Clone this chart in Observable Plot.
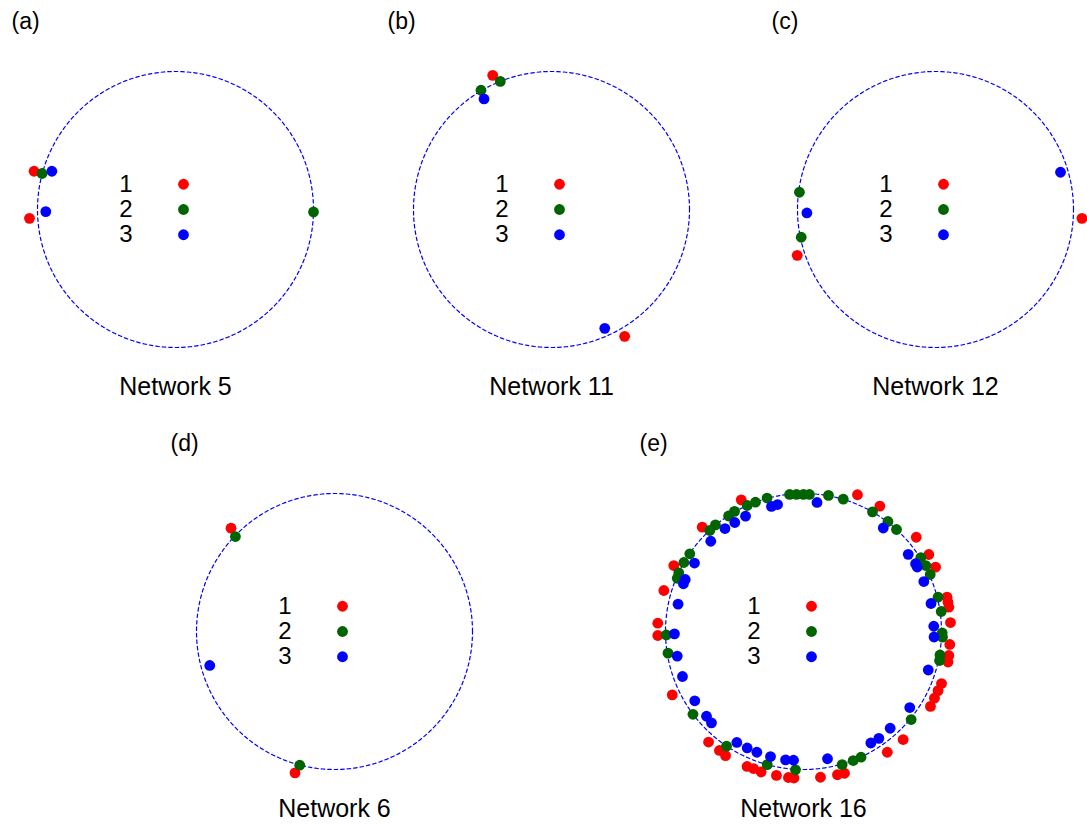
<!DOCTYPE html>
<html>
<head>
<meta charset="utf-8">
<script src="https://cdn.jsdelivr.net/npm/d3@7"></script>
<script src="https://cdn.jsdelivr.net/npm/@observablehq/plot@0.6"></script>
<style>
  body { margin: 0; background: #fff; }
  #fig { position: relative; width: 1087px; height: 827px; overflow: hidden; background: #fff; }
  .panel { position: absolute; }
  .panel svg { overflow: visible; max-width: none; }
</style>
</head>
<body>
<div id="fig"></div>
<script>
// Groups and their colours
const groups = ["1", "2", "3"];
const groupColors = ["#ff0000", "#006400", "#0000ff"];

// Panels: tag, title
const panelTags = ["(a)", "(b)", "(c)", "(d)", "(e)"];
const panelTitles = ["Network 5", "Network 11", "Network 12", "Network 6", "Network 16"];

// Node positions in unit-circle coordinates [x, y], per network and group
const net5_g1 = [[-1.025, 0.277], [-1.058, -0.064]];
const net5_g2 = [[-0.967, 0.261], [1.000, -0.018]];
const net5_g3 = [[-0.896, 0.277], [-0.940, -0.015]];

const net11_g1 = [[-0.426, 0.972], [0.530, -0.919]];
const net11_g2 = [[-0.371, 0.928], [-0.511, 0.864]];
const net11_g3 = [[-0.489, 0.801], [0.386, -0.861]];

const net12_g1 = [[1.061, -0.064], [-1.002, -0.332]];
const net12_g2 = [[-0.986, 0.125], [-0.973, -0.201]];
const net12_g3 = [[0.906, 0.270], [-0.932, -0.025]];

const net6_g1 = [[-0.750, 0.749], [-0.286, -1.024]];
const net6_g2 = [[-0.718, 0.688], [-0.252, -0.969]];
const net6_g3 = [[-0.904, -0.246]];

const net16_g1 = [
  [-0.734, 0.756], [-0.451, 0.954], [-0.940, 0.478], [-1.012, 0.297], [-1.056, 0.060],
  [-1.056, -0.029], [-0.951, -0.459], [-0.688, -0.801], [-0.609, -0.862], [-0.565, -0.899],
  [-0.409, -0.978], [-0.362, -0.993], [-0.307, -1.018], [-0.196, -1.043], [-0.109, -1.058],
  [-0.069, -1.062], [0.123, -1.056], [0.246, -1.038], [0.297, -1.027], [0.607, -0.875],
  [0.722, -0.783], [0.920, -0.543], [0.949, -0.483], [0.975, -0.428], [1.000, -0.377],
  [1.047, -0.221], [1.053, -0.174], [1.060, -0.094], [1.065, 0.065], [1.053, 0.176],
  [1.047, 0.212], [1.040, 0.249], [0.957, 0.466], [0.908, 0.558], [0.817, 0.683],
  [0.553, 0.909], [0.391, 0.991]
];
const net16_g2 = [
  [-0.638, 0.773], [-0.679, 0.732], [-0.500, 0.870], [-0.543, 0.837], [-0.408, 0.913],
  [-0.348, 0.937], [-0.264, 0.967], [-0.101, 0.993], [-0.051, 0.993], [0.000, 0.993],
  [0.043, 0.993], [0.181, 0.986], [0.288, 0.959], [0.500, 0.867], [0.612, 0.797],
  [0.674, 0.739], [0.850, 0.536], [0.886, 0.478], [0.918, 0.413], [0.975, 0.249],
  [0.998, 0.145], [1.005, -0.011], [1.007, -0.041], [0.989, -0.170], [0.986, -0.210],
  [0.780, -0.638], [0.417, -0.911], [0.360, -0.935], [0.280, -0.965], [-0.058, -1.002],
  [-0.263, -0.965], [-0.558, -0.831], [-0.801, -0.600], [-0.982, -0.157], [-0.994, -0.025],
  [-0.904, 0.425], [-0.915, 0.386], [-0.867, 0.500], [-0.824, 0.563]
];
const net16_g3 = [
  [-0.569, 0.746], [-0.498, 0.790], [-0.420, 0.836], [-0.232, 0.906], [-0.188, 0.920],
  [0.098, 0.935], [0.578, 0.750], [0.759, 0.559], [0.812, 0.491], [0.824, 0.467],
  [0.872, 0.362], [0.924, 0.203], [0.944, 0.038], [0.946, -0.040], [0.904, -0.279],
  [0.770, -0.551], [0.628, -0.701], [0.546, -0.774], [0.488, -0.808], [0.174, -0.922],
  [-0.072, -0.933], [-0.130, -0.930], [-0.239, -0.906], [-0.338, -0.875], [-0.408, -0.844],
  [-0.483, -0.804], [-0.667, -0.662], [-0.703, -0.614], [-0.788, -0.502], [-0.877, -0.326],
  [-0.915, -0.178], [-0.935, -0.017], [-0.909, 0.198], [-0.870, 0.346], [-0.857, 0.377],
  [-0.790, 0.496], [-0.672, 0.654]
];

const networkNodes = [
  [net5_g1, net5_g2, net5_g3],
  [net11_g1, net11_g2, net11_g3],
  [net12_g1, net12_g2, net12_g3],
  [net6_g1, net6_g2, net6_g3],
  [net16_g1, net16_g2, net16_g3]
];

// Layout: circle centres on the page (px) and circle radius (px)
const centers = [[174.5, 209.2], [550.8, 209.2], [935.3, 209.2], [333.8, 631], [803, 631]];
const R = 138;
const SIZE = 420;
const E = SIZE / 2 / R;
const FONT = "'Liberation Sans', Arial, Helvetica, sans-serif";

const ring = d3.range(0, 361, 1).map(a => ({x: Math.cos(a * Math.PI / 180), y: Math.sin(a * Math.PI / 180)}));
const legendRows = groups.map((g, i) => ({group: g, row: i}));

const fig = document.getElementById("fig");

networkNodes.forEach((nodeGroups, p) => {
  const nodes = nodeGroups.flatMap((list, gi) => list.map(([x, y]) => ({x, y, group: groups[gi]})));
  const chart = Plot.plot({
    width: SIZE,
    height: SIZE,
    margin: 0,
    style: {background: "transparent", fontFamily: FONT, overflow: "visible"},
    x: {domain: [-E, E], axis: null},
    y: {domain: [-E, E], axis: null},
    color: {domain: groups, range: groupColors},
    marks: [
      Plot.line(ring, {x: "x", y: "y", stroke: "#0000ff", strokeWidth: 1.2, strokeDasharray: "3.5,3"}),
      Plot.dot(nodes, {x: "x", y: "y", fill: "group", r: 5.4}),
      Plot.text(legendRows, {x: -0.359, y: d => 0.183 * (1 - d.row), text: "group", fontSize: 24, fill: "black", textAnchor: "middle"}),
      Plot.dot(legendRows, {x: 0.058, y: d => 0.183 * (1 - d.row), fill: "group", r: 5.4}),
      Plot.text([panelTags[p]], {frameAnchor: "middle", dx: -164, dy: -188, textAnchor: "start", fontSize: 23, fill: "black"}),
      Plot.text([panelTitles[p]], {frameAnchor: "middle", dy: 177, textAnchor: "middle", fontSize: 25, fill: "black"})
    ]
  });
  const holder = document.createElement("div");
  holder.className = "panel";
  holder.style.left = (centers[p][0] - SIZE / 2) + "px";
  holder.style.top = (centers[p][1] - SIZE / 2) + "px";
  holder.style.width = SIZE + "px";
  holder.style.height = SIZE + "px";
  holder.appendChild(chart);
  fig.appendChild(holder);
});
</script>
</body>
</html>
